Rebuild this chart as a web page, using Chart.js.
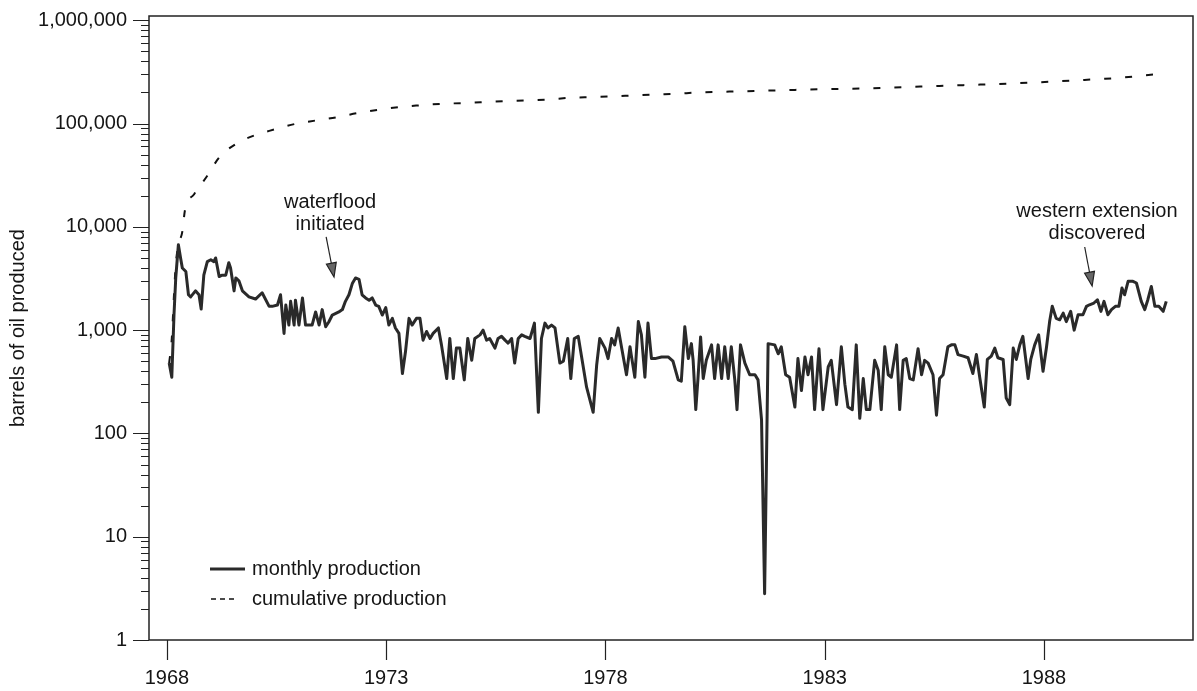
<!DOCTYPE html>
<html><head><meta charset="utf-8">
<script src="https://cdn.jsdelivr.net/npm/chart.js@4.4.1/dist/chart.umd.min.js"></script>
<style>html,body{margin:0;padding:0;background:#fff;} #wrap{width:1197px;height:691px;}</style>
</head><body><div id="wrap"><canvas id="c" width="1197" height="691"></canvas></div>
<script>
// ---------- DATA ----------
const prodYears = [
1968.05,1968.11,1968.16,1968.20,1968.26,1968.31,1968.35,1968.43,1968.49,1968.54,1968.65,1968.73,1968.78,1968.84,1968.92,
1969.00,1969.07,1969.11,1969.19,1969.26,1969.34,1969.41,1969.45,1969.53,1969.57,1969.64,1969.72,1969.87,
1970.02,1970.17,1970.33,1970.40,1970.52,1970.59,1970.67,1970.71,1970.78,1970.82,1970.90,1970.93,
1971.01,1971.09,1971.16,1971.31,1971.39,1971.47,1971.54,1971.62,1971.69,1971.77,1971.92,
1972.00,1972.07,1972.15,1972.23,1972.30,1972.38,1972.45,1972.53,1972.61,1972.68,1972.76,1972.83,1972.91,1972.99,
1973.06,1973.14,1973.21,1973.29,1973.37,1973.44,1973.52,1973.59,1973.69,1973.77,1973.84,1973.92,
1974.00,1974.07,1974.19,1974.26,1974.38,1974.45,1974.53,1974.60,1974.68,1974.78,1974.86,1974.95,
1975.02,1975.14,1975.21,1975.29,1975.36,1975.48,1975.55,1975.63,1975.71,1975.78,1975.86,1975.93,
1976.01,1976.09,1976.16,1976.28,1976.38,1976.47,1976.54,1976.62,1976.69,1976.77,1976.85,1976.96,
1977.04,1977.14,1977.21,1977.29,1977.38,1977.45,1977.57,1977.72,1977.80,1977.87,1977.99,
1978.06,1978.14,1978.21,1978.29,1978.37,1978.48,1978.56,1978.59,1978.67,1978.75,1978.82,1978.90,1978.97,
1979.05,1979.13,1979.28,1979.43,1979.54,1979.66,1979.73,1979.81,1979.89,1979.96,
1980.00,1980.06,1980.11,1980.17,1980.23,1980.30,1980.42,1980.49,1980.57,1980.65,1980.72,1980.80,1980.87,1980.95,
1981.00,1981.08,1981.18,1981.29,1981.41,1981.48,1981.56,1981.63,1981.71,1981.86,1981.94,
1982.01,1982.11,1982.20,1982.32,1982.39,1982.47,1982.55,1982.62,1982.70,1982.77,1982.87,1982.96,
1983.08,1983.15,1983.27,1983.38,1983.46,1983.53,1983.63,1983.72,1983.80,1983.88,1983.95,
1984.03,1984.14,1984.22,1984.29,1984.37,1984.45,1984.52,1984.64,1984.71,1984.79,1984.86,1984.94,
1985.02,1985.13,1985.21,1985.28,1985.36,1985.47,1985.55,1985.62,1985.70,1985.81,1985.89,1985.97,
1986.04,1986.16,1986.27,1986.38,1986.46,1986.54,1986.64,1986.71,1986.80,1986.88,1986.95,
1987.07,1987.14,1987.22,1987.30,1987.37,1987.45,1987.52,1987.64,1987.70,1987.79,1987.88,1987.98,
1988.06,1988.13,1988.19,1988.28,1988.36,1988.44,1988.51,1988.61,1988.69,1988.78,1988.89,1988.97,
1989.04,1989.14,1989.22,1989.30,1989.37,1989.46,1989.54,1989.63,1989.71,1989.78,1989.84,1989.92,
1990.03,1990.11,1990.22,1990.30,1990.37,1990.45,1990.53,1990.62,1990.72,1990.79
];
const prodValues = [
480,350,1400,3200,6700,5000,4000,3700,2200,2100,2400,2200,1600,3400,4600,
4800,4600,5000,3300,3400,3400,4500,4000,2400,3200,3000,2400,2100,
2000,2300,1700,1700,1750,2200,930,1750,1120,1900,1120,1950,
1120,2050,1120,1120,1500,1120,1580,1080,1200,1400,1500,
1580,1900,2200,2850,3200,3100,2200,2050,1950,2050,1750,1700,1400,1650,
1120,1300,1050,930,380,620,1300,1120,1300,1300,800,970,
830,930,1050,720,340,830,340,670,670,330,830,510,
830,900,1000,800,830,670,830,870,800,750,830,480,
830,900,870,830,1170,160,830,1170,1050,1120,1050,480,
500,830,340,830,870,570,280,160,460,830,670,
530,830,720,1050,670,370,690,570,350,1210,900,350,1170,
530,530,550,550,500,330,320,1080,530,740,
510,170,340,860,340,510,720,340,720,340,690,340,690,330,
170,720,480,370,370,330,135,2.8,740,720,590,
690,370,350,180,530,260,550,370,550,170,660,170,
440,510,190,690,300,180,170,720,140,340,170,
170,510,410,170,690,370,350,720,170,510,530,340,
330,660,370,510,480,370,150,340,370,690,720,720,
580,560,540,380,580,340,180,520,560,670,540,
520,220,190,670,520,720,870,340,520,720,900,400,
690,1210,1700,1300,1260,1460,1210,1520,1000,1410,1410,1700,
1760,1830,1970,1520,1900,1410,1580,1700,1700,2560,2200,2970,
2970,2860,1900,1580,1970,2650,1700,1700,1520,1900
];
const cumYears = [
1968.05,1968.11,1968.16,1968.20,1968.26,1968.35,1968.41,1968.62,1968.92,1969.19,1969.57,1969.98,
1970.44,1970.93,1971.39,1971.88,1972.34,1972.83,1973.29,1973.71,1974.26,1974.76,1975.25,1975.71,
1976.20,1976.70,1977.19,1977.68,1978.18,1978.63,1979.13,1979.62,1980.11,1981.06,1981.98,1982.96,
1983.90,1984.90,1985.81,1986.50,1987.20,1987.80,1988.30,1988.80,1989.30,1989.80,1990.20,1990.75
];
const cumValues = [
480,830,2200,4300,6600,9000,14500,20700,31200,46900,63400,76400,
87500,99300,107000,115300,126100,135900,144200,149600,155400,157800,161200,164800,
167300,171000,177800,180400,183200,187300,191400,194500,200000,205000,210000,215000,
219000,226000,233000,238000,244000,250000,256000,263000,270000,279000,290000,305000
];
const seriesLabels = ['monthly production', 'cumulative production'];
const xTickYears = [1968, 1973, 1978, 1983, 1988];
const yTickValues = [1, 10, 100, 1000, 10000, 100000, 1000000];
const yTickLabels = ['1', '10', '100', '1,000', '10,000', '100,000', '1,000,000'];
const yTitle = 'barrels of oil produced';
const annotationTexts = [['waterflood', 'initiated'], ['western extension', 'discovered']];
const annotationTextAt = [[1971.72, 17200], [1989.21, 14230]];
const annotationArrowFrom = [[1971.63, 7980], [1988.93, 6380]];
const annotationArrowTo = [[1971.81, 3270], [1989.10, 2675]];

// ---------- CHART ----------
const FONT = "'Liberation Sans', Arial, Helvetica, sans-serif";
const INK = '#151515';
const minorTicks = [];
yTickValues.slice(0, -1).forEach(d => { for (let m = 2; m <= 9; m++) minorTicks.push(d * m); });

const prodData = prodYears.map((x, i) => ({ x, y: prodValues[i] }));
const cumData = cumYears.map((x, i) => ({ x, y: cumValues[i] }));

const decorPlugin = {
  id: 'decor',
  afterDraw(chart) {
    const { ctx, chartArea: a, scales: { x, y } } = chart;
    ctx.save();
    // frame
    ctx.strokeStyle = '#222';
    ctx.lineWidth = 1.5;
    ctx.strokeRect(a.left, a.top, a.right - a.left, a.bottom - a.top);
    // y ticks
    ctx.lineWidth = 1.2;
    ctx.beginPath();
    yTickValues.forEach(v => {
      const py = Math.round(y.getPixelForValue(v)) + 0.5;
      ctx.moveTo(a.left - 16, py); ctx.lineTo(a.left, py);
    });
    minorTicks.forEach(v => {
      const py = Math.round(y.getPixelForValue(v)) + 0.5;
      ctx.moveTo(a.left - 8, py); ctx.lineTo(a.left, py);
    });
    // x ticks
    xTickYears.forEach(v => {
      const px = Math.round(x.getPixelForValue(v)) + 0.5;
      ctx.moveTo(px, a.bottom); ctx.lineTo(px, a.bottom + 20);
    });
    ctx.stroke();

    // legend (inside plot, lower left)
    const ds = chart.data.datasets;
    ctx.font = '20px ' + FONT;
    ctx.fillStyle = INK;
    ctx.textBaseline = 'middle';
    ctx.textAlign = 'left';
    const lx = a.left + 61, ly0 = a.bottom - 71, lgap = 30;
    ds.forEach((d, i) => {
      const ly = ly0 + i * lgap;
      ctx.save();
      ctx.strokeStyle = d.borderColor;
      if (i === 0) {
        ctx.lineWidth = d.borderWidth;
        ctx.setLineDash([]);
        ctx.beginPath(); ctx.moveTo(lx, ly); ctx.lineTo(lx + 35, ly); ctx.stroke();
      } else {
        ctx.lineWidth = 1.5;
        ctx.setLineDash([5, 4]);
        ctx.beginPath(); ctx.moveTo(lx + 1, ly); ctx.lineTo(lx + 24, ly); ctx.stroke();
      }
      ctx.restore();
      ctx.fillText(d.label, lx + 42, ly);
    });

    // annotations
    ctx.textAlign = 'center';
    annotationTexts.forEach((lines, i) => {
      const tx = x.getPixelForValue(annotationTextAt[i][0]);
      const ty = y.getPixelForValue(annotationTextAt[i][1]);
      lines.forEach((t, k) => ctx.fillText(t, tx, ty + k * 22));
      const x1 = x.getPixelForValue(annotationArrowFrom[i][0]);
      const y1 = y.getPixelForValue(annotationArrowFrom[i][1]);
      const x2 = x.getPixelForValue(annotationArrowTo[i][0]);
      const y2 = y.getPixelForValue(annotationArrowTo[i][1]);
      const ang = Math.atan2(y2 - y1, x2 - x1);
      const hl = 14, hw = 5;
      const bx = x2 - hl * Math.cos(ang), by = y2 - hl * Math.sin(ang);
      ctx.strokeStyle = '#222'; ctx.lineWidth = 1.2;
      ctx.beginPath(); ctx.moveTo(x1, y1); ctx.lineTo(bx, by); ctx.stroke();
      ctx.beginPath();
      ctx.moveTo(x2, y2);
      ctx.lineTo(bx + hw * Math.sin(ang), by - hw * Math.cos(ang));
      ctx.lineTo(bx - hw * Math.sin(ang), by + hw * Math.cos(ang));
      ctx.closePath();
      ctx.fillStyle = '#666'; ctx.fill();
      ctx.strokeStyle = '#222'; ctx.lineWidth = 1.2; ctx.stroke();
      ctx.fillStyle = INK;
    });
    ctx.restore();
  }
};

new Chart(document.getElementById('c'), {
  type: 'line',
  data: {
    datasets: [
      { label: seriesLabels[0], data: prodData, borderColor: '#2a2a2a', borderWidth: 3,
        pointRadius: 0, tension: 0, borderJoinStyle: 'round', fill: false },
      { label: seriesLabels[1], data: cumData, borderColor: '#111', borderWidth: 2,
        borderDash: [7, 14], pointRadius: 0, cubicInterpolationMode: 'monotone', fill: false }
    ]
  },
  options: {
    responsive: false,
    devicePixelRatio: 1,
    animation: false,
    layout: { padding: { left: 0, right: 4, top: 16, bottom: 0 } },
    plugins: { legend: { display: false }, tooltip: { enabled: false } },
    scales: {
      x: {
        type: 'linear', min: 1967.59, max: 1991.4,
        afterBuildTicks: s => { s.ticks = xTickYears.map(v => ({ value: v })); },
        afterFit: s => { s.height = 51; s.paddingLeft = 0; s.paddingRight = 0; },
        ticks: { callback: v => String(v), font: { family: FONT, size: 20 }, color: INK,
                 padding: 26, maxRotation: 0, autoSkip: false },
        grid: { display: false, drawTicks: false },
        border: { display: false }
      },
      y: {
        type: 'logarithmic', min: 1, max: 1.1e6,
        afterBuildTicks: s => { s.ticks = yTickValues.concat(minorTicks).sort((a, b) => a - b).map(v => ({ value: v })); },
        afterFit: s => { s.width = 149; s.paddingTop = 0; s.paddingBottom = 0; },
        ticks: {
          callback: v => { const i = yTickValues.indexOf(v); return i >= 0 ? yTickLabels[i] : ''; },
          font: { family: FONT, size: 20 }, color: INK, padding: 22, autoSkip: false
        },
        grid: { display: false, drawTicks: false },
        border: { display: false },
        title: { display: true, text: yTitle, color: INK, font: { family: FONT, size: 20 },
                 padding: { top: 6, bottom: 0 } }
      }
    }
  },
  plugins: [decorPlugin]
});
</script>
</body></html>
